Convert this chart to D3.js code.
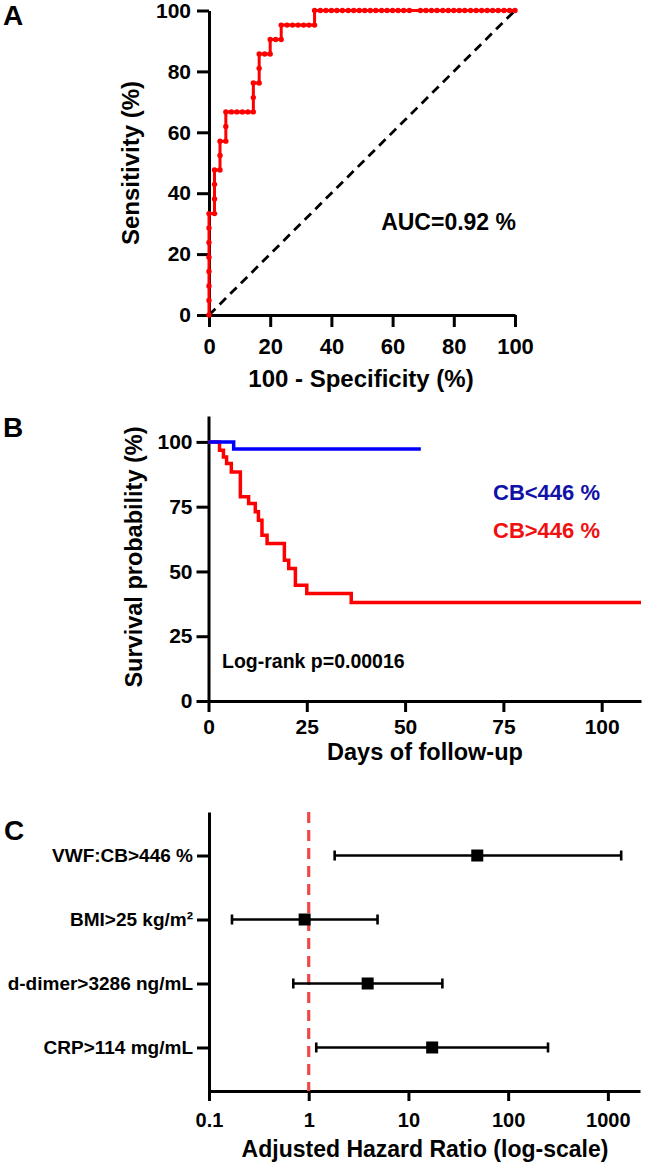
<!DOCTYPE html>
<html><head><meta charset="utf-8">
<script src="https://cdn.jsdelivr.net/npm/d3@7"></script>
<style>body{margin:0;background:#fff}</style>
</head><body><svg id="c" width="645" height="1167"></svg>
<script>
// ---------- Panel A: ROC ----------
const rocFPR = [
  0,0,0,0,0,0,0,0,
  1.8,1.8,1.8,1.8,
  3.6,3.6,3.6,
  5.5,5.5,5.5,
  7.3,9.1,10.9,12.7,14.5,
  14.5,14.5,
  16.4,16.4,16.4,
  18.2,20.0,20.0,
  21.8,23.6,23.6,
  25.5,27.3,29.1,30.9,32.7,34.5,34.5,
  36.4,38.2,40.0,41.8,43.6,45.5,47.3,49.1,50.9,52.7,54.5,56.4,58.2,60.0,61.8,63.6,65.5,
  69.1,70.9,72.7,74.5,76.4,78.2,80.0,81.8,83.6,85.5,87.3,89.1,90.9,92.7,94.5,96.4,98.2,100
];
const rocSens = [
  0,4.8,9.5,14.3,19.0,23.8,28.6,33.3,
  33.3,38.1,42.9,47.6,
  47.6,52.4,57.1,
  57.1,61.9,66.7,
  66.7,66.7,66.7,66.7,66.7,
  71.4,76.2,
  76.2,81.0,85.7,
  85.7,85.7,90.5,
  90.5,90.5,95.2,
  95.2,95.2,95.2,95.2,95.2,95.2,100,
  100,100,100,100,100,100,100,100,100,100,100,100,100,100,100,100,100,
  100,100,100,100,100,100,100,100,100,100,100,100,100,100,100,100,100,100
];
const chanceLine = [0, 100];
const rocTicks = [0, 20, 40, 60, 80, 100];
const aucLabel = "AUC=0.92 %";

// ---------- Panel B: Kaplan-Meier ----------
const blueDays = [0, 6.4, 54];
const blueSurv = [100, 97.3, 97.3];
const redDays = [0, 2.8, 3.8, 4.6, 5.8, 8.1, 10.2, 11.9, 12.7, 13.6, 14.9, 19.3, 20.4, 22.1, 25.0, 36.3, 110];
const redSurv = [100, 96.8, 94.2, 91.7, 88.4, 78.8, 76.2, 73.0, 69.8, 64.0, 60.8, 54.3, 51.1, 44.7, 41.5, 38.0, 38.0];
const kmXTicks = [0, 25, 50, 75, 100];
const kmYTicks = [0, 25, 50, 75, 100];
const groupLabels = ["CB<446 %", "CB>446 %"];
const logRankLabel = "Log-rank p=0.00016";

// ---------- Panel C: Forest plot ----------
const factors = ["VWF:CB>446 %", "BMI>25 kg/m\u00B2", "d-dimer>3286 ng/mL", "CRP>114 mg/mL"];
const hr = [49, 0.91, 3.9, 17.3];
const hrLow = [1.82, 0.17, 0.70, 1.19];
const hrHigh = [1360, 4.9, 21.9, 251];
const hrTicks = [0.1, 1, 10, 100, 1000];

// ---------- drawing ----------
const F = '"Liberation Sans", Arial, Helvetica, sans-serif';
const svg = d3.select("#c");

function styleAxis(g, fs) {
  g.select(".domain").attr("stroke", "#000").attr("stroke-width", 3);
  g.selectAll(".tick line").attr("stroke", "#000").attr("stroke-width", 3);
  g.selectAll(".tick text").attr("fill", "#000")
    .style("font-size", fs + "px").style("font-weight", "bold").style("font-family", F);
}
function txt(x, y, s, fs, opts = {}) {
  const t = svg.append("text").attr("x", x).attr("y", y).text(s)
    .style("font-family", F).style("font-weight", "bold").style("font-size", fs + "px")
    .attr("fill", opts.fill || "#000").attr("text-anchor", opts.anchor || "start");
  if (opts.rotate) t.attr("transform", `rotate(-90,${x},${y})`);
  return t;
}

// Panel A
const xA = d3.scaleLinear([0, 100], [209, 515]);
const yA = d3.scaleLinear([0, 100], [315, 10.5]);
const gAx = svg.append("g").attr("transform", "translate(0,315)")
  .call(d3.axisBottom(xA).tickValues(rocTicks).tickSize(12).tickSizeOuter(0));
styleAxis(gAx, 22);
gAx.selectAll(".tick text").attr("y", 39).attr("dy", 0);
const gAy = svg.append("g").attr("transform", "translate(209,0)")
  .call(d3.axisLeft(yA).tickValues(rocTicks).tickSize(12).tickSizeOuter(0).tickPadding(6));
styleAxis(gAy, 21);

svg.append("line")
  .attr("x1", xA(chanceLine[0])).attr("y1", yA(chanceLine[0]))
  .attr("x2", xA(chanceLine[1])).attr("y2", yA(chanceLine[1]))
  .attr("stroke", "#000").attr("stroke-width", 2.8).attr("stroke-dasharray", "9,6");

const rocPts = rocFPR.map((f, i) => [f, rocSens[i]]);
svg.append("path").datum(rocPts)
  .attr("d", d3.line().x(d => xA(d[0])).y(d => yA(d[1])))
  .attr("fill", "none").attr("stroke", "#ff0000").attr("stroke-width", 3);
svg.append("g").selectAll("circle").data(rocPts).join("circle")
  .attr("cx", d => xA(d[0])).attr("cy", d => yA(d[1])).attr("r", 2.7).attr("fill", "#ff0000");

txt(516, 230, aucLabel, 23, { anchor: "end" });
txt(361, 387, "100 - Specificity (%)", 24, { anchor: "middle" });
txt(139, 163, "Sensitivity (%)", 24, { anchor: "middle", rotate: true });
txt(3, 25, "A", 28);

// Panel B
const xB = d3.scaleLinear([0, 110], [208.5, 641]);
const yB = d3.scaleLinear([0, 110], [701, 416]);
const gBx = svg.append("g").attr("transform", "translate(0,701)")
  .call(d3.axisBottom(xB).tickValues(kmXTicks).tickSize(11).tickSizeOuter(0));
styleAxis(gBx, 21);
gBx.selectAll(".tick text").attr("y", 33).attr("dy", 0);
const gBy = svg.append("g").attr("transform", "translate(208.5,0)")
  .call(d3.axisLeft(yB).tickValues(kmYTicks).tickSize(12).tickSizeOuter(0).tickPadding(4));
styleAxis(gBy, 21);

const km = d3.line().curve(d3.curveStepAfter).x(d => xB(d[0])).y(d => yB(d[1]));
svg.append("path").datum(redDays.map((d, i) => [d, redSurv[i]]))
  .attr("d", km).attr("fill", "none").attr("stroke", "#ff0000").attr("stroke-width", 3.5);
svg.append("path").datum(blueDays.map((d, i) => [d, blueSurv[i]]))
  .attr("d", km).attr("fill", "none").attr("stroke", "#0000ff").attr("stroke-width", 3.5);

txt(493, 500, groupLabels[0], 22, { fill: "#1111a8" });
txt(493, 538, groupLabels[1], 22, { fill: "#f01010" });
txt(222, 668, logRankLabel, 19.5);
txt(425, 760, "Days of follow-up", 23.5, { anchor: "middle" });
txt(142, 557, "Survival probability (%)", 23.5, { anchor: "middle", rotate: true });
txt(3, 437, "B", 28);

// Panel C
const xC = d3.scaleLog([0.1, 2100], [209, 640]);
const yC = d3.scalePoint(factors, [812, 1091]).padding(0.68);
const gCx = svg.append("g").attr("transform", "translate(0,1091)")
  .call(d3.axisBottom(xC).tickValues(hrTicks).tickFormat(d => String(d)).tickSize(10).tickSizeOuter(0));
styleAxis(gCx, 20);
gCx.selectAll(".tick text").attr("y", 36).attr("dy", 0);
const gCy = svg.append("g").attr("transform", "translate(209,0)")
  .call(d3.axisLeft(yC).tickSize(12).tickSizeOuter(0).tickPadding(4));
styleAxis(gCy, 19);

svg.append("line")
  .attr("x1", xC(1)).attr("x2", xC(1)).attr("y1", 812).attr("y2", 1091)
  .attr("stroke", "#f04848").attr("stroke-width", 3.2).attr("stroke-dasharray", "11,7");

const rows = factors.map((f, i) => ({ f, hr: hr[i], lo: hrLow[i], hi: hrHigh[i] }));
const gR = svg.append("g").selectAll("g").data(rows).join("g");
gR.append("line").attr("x1", d => xC(d.lo)).attr("x2", d => xC(d.hi))
  .attr("y1", d => yC(d.f)).attr("y2", d => yC(d.f)).attr("stroke", "#000").attr("stroke-width", 2.6);
gR.append("line").attr("x1", d => xC(d.lo)).attr("x2", d => xC(d.lo))
  .attr("y1", d => yC(d.f) - 5).attr("y2", d => yC(d.f) + 5).attr("stroke", "#000").attr("stroke-width", 2.6);
gR.append("line").attr("x1", d => xC(d.hi)).attr("x2", d => xC(d.hi))
  .attr("y1", d => yC(d.f) - 5).attr("y2", d => yC(d.f) + 5).attr("stroke", "#000").attr("stroke-width", 2.6);
gR.append("rect").attr("x", d => xC(d.hr) - 6).attr("y", d => yC(d.f) - 6)
  .attr("width", 12).attr("height", 12).attr("fill", "#000");

txt(425, 1157, "Adjusted Hazard Ratio (log-scale)", 23, { anchor: "middle" });
txt(4, 840, "C", 28);
</script></body></html>
